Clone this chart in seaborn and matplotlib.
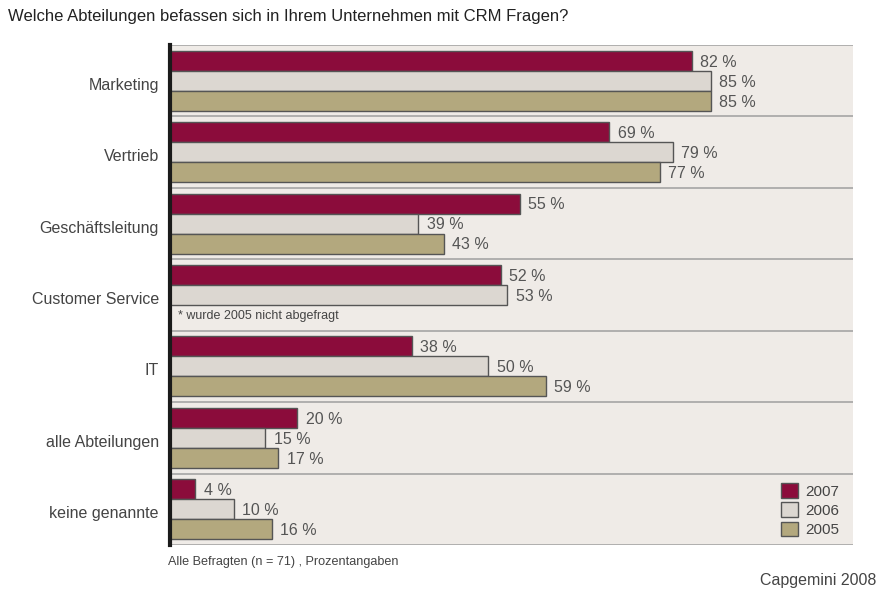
import numpy as np
import pandas as pd
import matplotlib
matplotlib.use("Agg")
import matplotlib.pyplot as plt
import matplotlib.transforms as mtransforms
import seaborn as sns

categories = ["Marketing", "Vertrieb", "Geschäftsleitung", "Customer Service",
              "IT", "alle Abteilungen", "keine genannte"]
years = ["2007", "2006", "2005"]
v2007 = [82, 69, 55, 52, 38, 20, 4]
v2006 = [85, 79, 39, 53, 50, 15, 10]
v2005 = [85, 77, 43, np.nan, 59, 17, 16]

colors = {"2007": "#8b0c3b", "2006": "#dcd7d1", "2005": "#b3a87e"}

rows = []
for y, vals in zip(years, [v2007, v2006, v2005]):
    for c, v in zip(categories, vals):
        rows.append({"Abteilung": c, "Jahr": y, "Wert": v})
df = pd.DataFrame(rows)

sns.set_theme(style="white")
plt.rcParams["font.family"] = ["Liberation Sans", "DejaVu Sans"]

fig = plt.figure(figsize=(8.81, 5.93), dpi=100)
ax = fig.add_axes([170/881, 1-545/593, (853-170)/881, (545-45)/593])
ax.set_facecolor("#efebe7")

sns.barplot(data=df, y="Abteilung", x="Wert", hue="Jahr", order=categories,
            hue_order=years, palette=colors, orient="h", width=0.84,
            saturation=1, edgecolor="#555555", linewidth=1.0, ax=ax)

ax.set_xlim(0, 107.3)
ax.set_ylim(len(categories)-0.5, -0.5)

for cont in ax.containers:
    for bar in cont:
        if bar is None:
            continue
        w = bar.get_width()
        if not np.isfinite(w):
            continue
        yc = bar.get_y() + bar.get_height()/2
        ax.annotate(f"{w:g} %", (w, yc), xytext=(6, -1), textcoords="offset points",
                    va="center", ha="left", fontsize=11.5, color="#555555")

for i in range(len(categories)+1):
    ax.axhline(i-0.5, color="#9f9f9f", lw=1.1, zorder=0.5)

for s in ["top", "right", "bottom"]:
    ax.spines[s].set_visible(False)
ax.spines["left"].set_color("#1a1a1a")
ax.spines["left"].set_linewidth(3)

ax.set_xticks([])
ax.set_xlabel("")
ax.set_ylabel("")
ax.tick_params(axis="y", length=0, pad=8, labelsize=11.5, labelcolor="#444444")
off = mtransforms.ScaledTranslation(0, -3/100, fig.dpi_scale_trans)
for lab in ax.get_yticklabels():
    lab.set_transform(lab.get_transform() + off)

ax.text(1.2, 3.30, "* wurde 2005 nicht abgefragt", fontsize=9, color="#444444",
        va="center", ha="left")

handles, labels = ax.get_legend_handles_labels()
ax.legend(handles, labels, loc="lower right", bbox_to_anchor=(1.0, -0.012),
          frameon=False, fontsize=11, handlelength=1.1, handleheight=1.1,
          labelspacing=0.25, handletextpad=0.5, labelcolor="#444444")

fig.text(8/881, 1-17/593, "Welche Abteilungen befassen sich in Ihrem Unternehmen mit CRM Fragen?",
         fontsize=12, color="#222222", va="center", ha="left")
fig.text(168/881, 1-562/593, "Alle Befragten (n = 71) , Prozentangaben",
         fontsize=9.1, color="#444444", va="center", ha="left")
fig.text(876/881, 1-580/593, "Capgemini 2008", fontsize=11.5, color="#444444",
         va="center", ha="right")

fig.savefig("out.png", dpi=100, facecolor="white")
